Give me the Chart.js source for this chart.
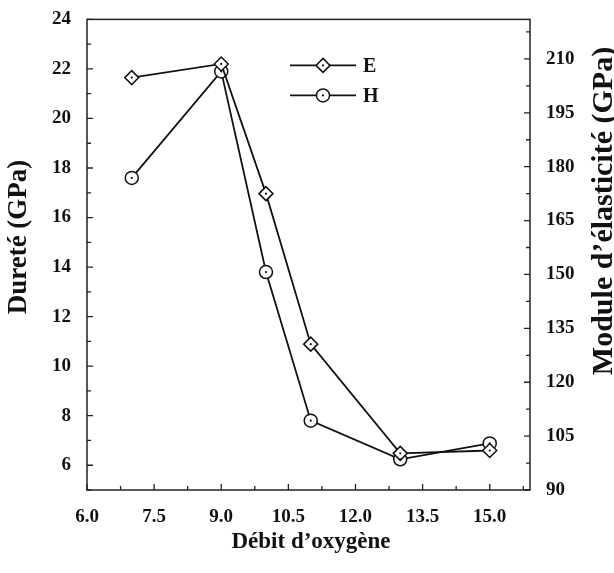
<!DOCTYPE html>
<html>
<head>
<meta charset="utf-8">
<script src="https://cdn.jsdelivr.net/npm/chart.js@4/dist/chart.umd.min.js"></script>
<style>
  html, body { margin: 0; padding: 0; background: #fff; }
  #wrap { width: 614px; height: 573px; }
</style>
</head>
<body>
<div id="wrap"><canvas id="chart" width="614" height="573"></canvas></div>
<script>
const debit = [7, 9, 10, 11, 13, 15];
const moduleE = [204.8, 208.6, 172.5, 130.6, 100.2, 101.0];
const dureteH = [17.6, 21.9, 13.8, 7.8, 6.24, 6.88];

const xTicks = [6.0, 7.5, 9.0, 10.5, 12.0, 13.5, 15.0];
const leftTicks = [6, 8, 10, 12, 14, 16, 18, 20, 22, 24];
const rightTicks = [90, 105, 120, 135, 150, 165, 180, 195, 210];

const serif = "'Liberation Serif', 'DejaVu Serif', serif";
const tickFont = { family: serif, size: 19, weight: "bold" };

function setTicks(list) {
  return (scale) => { scale.ticks = list.map((v) => ({ value: v })); };
}

// inward tick marks, major at labels and minor half way
function drawTicks(ctx, scale, majors, step, horizontal, side) {
  const minors = [];
  for (let v = majors[0] - step / 2; v <= scale.max; v += step) {
    if (v >= scale.min) minors.push(v);
  }
  const area = scale.chart.chartArea;
  const marks = majors.map((v) => [v, 6]).concat(minors.map((v) => [v, 4]));
  ctx.beginPath();
  marks.forEach(([v, len]) => {
    const p = scale.getPixelForValue(v);
    if (horizontal) {
      ctx.moveTo(p, area.bottom);
      ctx.lineTo(p, area.bottom - len);
    } else if (side === "left") {
      ctx.moveTo(area.left, p);
      ctx.lineTo(area.left + len, p);
    } else {
      ctx.moveTo(area.right, p);
      ctx.lineTo(area.right - len, p);
    }
  });
  ctx.stroke();
}

const framePlugin = {
  id: "frame",
  afterDatasetsDraw(chart) {
    const { ctx, chartArea: a, scales } = chart;
    ctx.save();
    ctx.strokeStyle = "#222";
    ctx.lineWidth = 1.5;
    ctx.strokeRect(a.left, a.top, a.right - a.left, a.bottom - a.top);
    ctx.lineWidth = 1.3;
    drawTicks(ctx, scales.x, xTicks, 1.5, true);
    drawTicks(ctx, scales.y, leftTicks, 2, false, "left");
    drawTicks(ctx, scales.y1, rightTicks, 15, false, "right");

    // centre dots of the markers
    ctx.fillStyle = "#111";
    chart.data.datasets.forEach((ds, i) => {
      chart.getDatasetMeta(i).data.forEach((pt) => {
        ctx.beginPath();
        ctx.arc(pt.x, pt.y, 1.1, 0, Math.PI * 2);
        ctx.fill();
      });
    });

    // legend inside the plot
    const lx = a.left + 203, ly = [a.top + 46, a.top + 76];
    chart.data.datasets.forEach((ds, i) => {
      const y = ly[i];
      ctx.strokeStyle = "#111";
      ctx.lineWidth = 1.8;
      ctx.beginPath();
      ctx.moveTo(lx, y);
      ctx.lineTo(lx + 66, y);
      ctx.stroke();
      ctx.fillStyle = "#fff";
      ctx.lineWidth = 1.5;
      ctx.beginPath();
      if (ds.pointStyle === "rectRot") {
        const r = ds.pointRadius;
        ctx.moveTo(lx + 33, y - r);
        ctx.lineTo(lx + 33 + r, y);
        ctx.lineTo(lx + 33, y + r);
        ctx.lineTo(lx + 33 - r, y);
        ctx.closePath();
      } else {
        ctx.arc(lx + 33, y, ds.pointRadius, 0, Math.PI * 2);
      }
      ctx.fill();
      ctx.stroke();
      ctx.fillStyle = "#111";
      ctx.beginPath();
      ctx.arc(lx + 33, y, 1.1, 0, Math.PI * 2);
      ctx.fill();
      ctx.font = "bold 20px " + serif;
      ctx.textBaseline = "middle";
      ctx.textAlign = "left";
      ctx.fillText(ds.label, lx + 73, y + 1);
    });

    // axis titles
    ctx.fillStyle = "#111";
    ctx.textAlign = "center";
    ctx.textBaseline = "middle";
    ctx.font = "bold 23px " + serif;
    ctx.fillText("Débit d\u2019oxygène", 311, 542);
    ctx.save();
    ctx.translate(19, 237);
    ctx.rotate(-Math.PI / 2);
    ctx.font = "bold 27px " + serif;
    ctx.fillText("Dureté (GPa)", 0, 0);
    ctx.restore();
    ctx.save();
    ctx.translate(604, 211);
    ctx.rotate(-Math.PI / 2);
    ctx.font = "bold 30px " + serif;
    ctx.fillText("Module d\u2019élasticité (GPa)", 0, 0);
    ctx.restore();
    ctx.restore();
  },
};

new Chart(document.getElementById("chart"), {
  type: "line",
  data: {
    datasets: [
      {
        label: "E",
        data: debit.map((x, i) => ({ x, y: moduleE[i] })),
        yAxisID: "y1",
        borderColor: "#111",
        borderWidth: 1.8,
        pointStyle: "rectRot",
        pointRadius: 7,
        pointBorderWidth: 1.5,
        pointBackgroundColor: "#fff",
        pointBorderColor: "#111",
        tension: 0,
      },
      {
        label: "H",
        data: debit.map((x, i) => ({ x, y: dureteH[i] })),
        yAxisID: "y",
        borderColor: "#111",
        borderWidth: 1.8,
        pointStyle: "circle",
        pointRadius: 6.5,
        pointBorderWidth: 1.5,
        pointBackgroundColor: "#fff",
        pointBorderColor: "#111",
        tension: 0,
      },
    ],
  },
  options: {
    responsive: false,
    animation: false,
    layout: { padding: { top: 16 } },
    plugins: { legend: { display: false }, tooltip: { enabled: false } },
    scales: {
      x: {
        type: "linear",
        min: 6,
        max: 15.9,
        afterBuildTicks: setTicks(xTicks),
        afterFit: (s) => { s.height = 83; },
        grid: { display: false },
        border: { display: false },
        ticks: {
          font: tickFont,
          color: "#111",
          padding: 8,
          maxRotation: 0,
          callback: (v) => v.toFixed(1),
        },
      },
      y: {
        type: "linear",
        position: "left",
        min: 5,
        max: 24,
        afterBuildTicks: setTicks(leftTicks),
        afterFit: (s) => { s.width = 87; },
        grid: { display: false },
        border: { display: false },
        ticks: { font: tickFont, color: "#111", padding: 8 },
      },
      y1: {
        type: "linear",
        position: "right",
        min: 90,
        max: 221,
        afterBuildTicks: setTicks(rightTicks),
        afterFit: (s) => { s.width = 84; },
        grid: { display: false },
        border: { display: false },
        ticks: { font: tickFont, color: "#111", padding: 8 },
      },
    },
  },
  plugins: [framePlugin],
});
</script>
</body>
</html>
